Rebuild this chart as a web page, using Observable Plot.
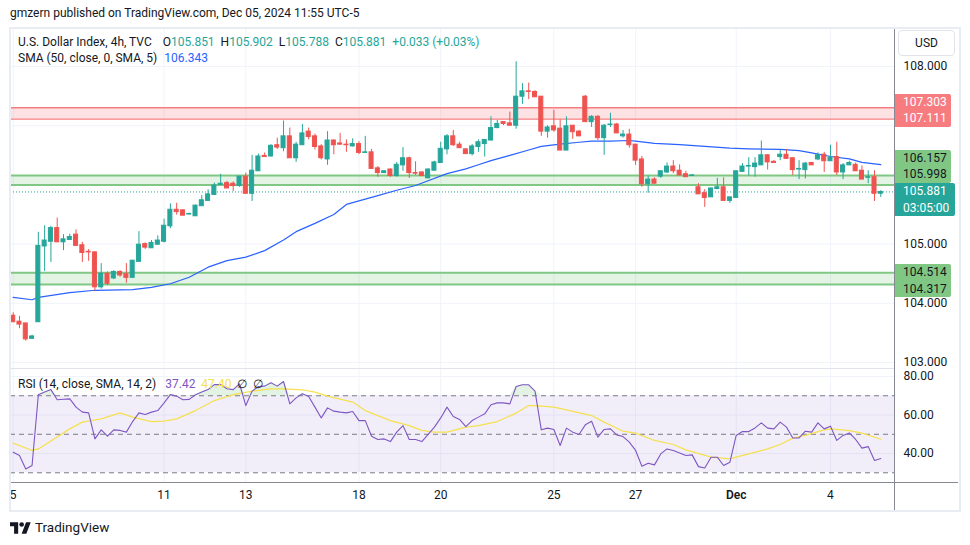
<!DOCTYPE html>
<html><head><meta charset="utf-8">
<script src="https://cdn.jsdelivr.net/npm/d3@7"></script>
<script src="https://cdn.jsdelivr.net/npm/@observablehq/plot@0.6"></script>
<style>
body{margin:0;background:#fff;}
#root{position:relative;width:970px;height:545px;overflow:hidden;font-family:Roboto,"Noto Sans",sans-serif;color:#131722;font-size:12px;}
.abs{position:absolute;white-space:nowrap;}
.lbl{position:absolute;left:895px;border-radius:0 2px 2px 0;font-size:12px;}
.lbl div{height:16.7px;line-height:16.7px;padding-left:8px;}
</style></head><body><div id="root"></div>
<script>
// ---- data ----
const open  = [103.79,103.69,103.66,103.40,103.68,104.96,105.04,105.27,105.03,105.07,105.16,104.98,104.87,104.86,104.27,104.50,104.42,104.53,104.49,104.43,104.70,105.00,104.93,104.99,105.04,105.30,105.58,105.57,105.50,105.47,105.64,105.73,105.83,106.00,106.03,106.02,105.98,106.14,105.85,106.23,106.49,106.48,106.67,106.62,106.82,106.45,106.67,106.90,106.82,106.65,106.43,106.75,106.70,106.68,106.65,106.69,106.54,106.55,106.28,106.20,106.26,106.15,106.33,106.45,106.20,106.21,106.11,106.24,106.37,106.60,106.82,106.68,106.60,106.52,106.64,106.69,106.75,106.96,107.06,107.04,107.00,107.49,107.58,107.57,107.49,106.90,106.99,106.95,106.58,107.00,106.90,107.49,107.06,107.15,106.79,107.01,107.02,106.82,106.85,106.68,106.43,106.01,106.09,106.14,106.21,106.31,106.24,106.18,106.15,105.96,105.86,105.79,105.93,105.96,105.73,105.78,106.22,106.31,106.30,106.33,106.50,106.39,106.47,106.51,106.45,106.26,106.25,106.37,106.43,106.51,106.40,106.47,106.21,106.33,106.34,106.24,106.12,106.13,105.851];
const high  = [103.84,103.78,103.66,103.46,105.20,105.31,105.30,105.44,105.16,105.17,105.24,105.03,104.91,104.87,104.67,104.53,104.55,104.55,104.67,104.72,105.21,105.02,105.06,105.14,105.42,105.68,105.69,105.58,105.52,105.66,105.82,105.92,106.03,106.18,106.06,106.05,106.14,106.20,106.50,106.52,106.54,106.68,106.79,107.08,106.96,106.72,107.02,106.96,106.86,106.68,106.90,106.76,106.87,106.76,106.78,106.73,106.82,106.60,106.31,106.24,106.27,106.38,106.63,106.47,106.39,106.22,106.27,106.40,106.72,106.85,106.92,106.72,106.61,106.68,106.76,106.76,107.15,107.09,107.07,107.23,108.08,107.71,107.72,107.59,107.49,107.00,107.26,107.10,107.15,107.00,106.92,107.51,107.17,107.17,107.02,107.21,107.04,106.92,106.94,106.68,106.48,106.15,106.12,106.24,106.37,106.41,106.34,106.23,106.17,106.02,105.92,105.94,106.11,106.12,105.79,106.23,106.36,106.46,106.46,106.74,106.51,106.41,106.59,106.60,106.45,106.41,106.38,106.38,106.54,106.55,106.67,106.72,106.36,106.40,106.37,106.32,106.24,106.24,105.902];
const low   = [103.68,103.57,103.36,103.40,103.68,104.54,104.69,105.03,104.89,105.06,104.97,104.69,104.71,104.20,104.24,104.30,104.40,104.44,104.34,104.43,104.70,104.91,104.93,104.98,105.02,105.26,105.49,105.48,105.49,105.47,105.64,105.73,105.83,106.00,105.94,105.89,105.96,105.85,105.72,106.23,106.47,106.47,106.60,106.56,106.45,106.38,106.67,106.76,106.59,106.42,106.33,106.51,106.67,106.55,106.64,106.51,106.54,106.27,106.13,106.19,106.13,106.13,106.23,106.11,106.16,106.15,106.11,106.24,106.37,106.51,106.65,106.62,106.52,106.49,106.55,106.47,106.74,106.95,107.00,106.99,106.94,107.36,107.44,107.48,106.82,106.79,106.89,106.58,106.58,106.77,106.82,107.06,106.97,106.75,106.50,106.97,106.87,106.79,106.62,106.33,105.96,105.86,106.02,106.11,106.19,106.19,106.15,106.13,106.15,105.84,105.62,105.79,105.92,105.73,105.69,105.78,106.22,106.15,106.13,106.33,106.25,106.37,106.41,106.44,106.16,106.09,106.10,106.33,106.41,106.21,106.40,106.16,106.09,106.33,106.23,106.09,106.02,105.72,105.788];
const close = [103.68,103.64,103.39,103.44,104.97,105.06,105.27,105.03,105.08,105.12,104.97,104.85,104.86,104.27,104.50,104.33,104.53,104.47,104.43,104.72,104.99,104.94,105.02,105.06,105.31,105.58,105.54,105.48,105.51,105.65,105.74,105.84,105.99,106.02,105.94,105.98,106.14,105.85,106.24,106.48,106.47,106.66,106.63,106.82,106.45,106.68,106.87,106.81,106.64,106.45,106.75,106.67,106.68,106.67,106.69,106.54,106.55,106.27,106.20,106.23,106.15,106.34,106.45,106.20,106.19,106.15,106.26,106.38,106.61,106.82,106.67,106.62,106.52,106.65,106.72,106.76,106.96,107.03,107.03,107.00,107.49,107.58,107.57,107.48,106.90,106.97,106.92,106.58,106.99,106.89,106.82,107.06,107.15,106.79,107.00,107.02,106.87,106.85,106.67,106.41,106.01,106.09,106.02,106.23,106.31,106.23,106.16,106.13,106.16,105.84,105.78,105.94,105.96,105.73,105.79,106.23,106.31,106.32,106.36,106.50,106.38,106.37,106.51,106.44,106.25,106.27,106.36,106.33,106.50,106.40,106.46,106.21,106.33,106.37,106.23,106.09,106.13,105.85,105.881];
// SMA(50) vertices: [candle index, value]
const sma50 = [[1,104.10],[4,104.06],[5,104.10],[10,104.18],[14,104.22],[20,104.23],[23,104.27],[26,104.33],[29,104.44],[32,104.61],[35,104.72],[38,104.78],[41,104.89],[44,105.07],[46,105.21],[49,105.35],[52,105.50],[54,105.67],[57,105.76],[59,105.82],[62,105.91],[65,105.99],[67,106.07],[70,106.19],[73,106.27],[75,106.34],[77,106.41],[80,106.50],[83,106.59],[85,106.65],[88,106.69],[91,106.72],[93,106.74],[96,106.74],[99,106.75],[100,106.74],[103,106.70],[107,106.68],[111,106.65],[115,106.62],[118,106.61],[123,106.60],[126,106.58],[128,106.54],[131,106.48],[134,106.44],[136,106.38],[139,106.343]];
// RSI(14) per candle
const rsi = [40.7,39.0,32.0,33.8,70.5,71.9,73.2,67.9,68.2,68.4,64.1,61.5,61.1,47.6,52.3,49.0,52.3,52.0,51.1,56.6,61.1,60.3,61.5,62.3,66.3,70.6,69.8,67.9,68.1,70.5,71.9,73.2,75.8,75.8,73.6,73.2,76.2,64.9,72.4,74.8,75.0,76.7,75.0,77.4,65.8,68.9,71.0,69.6,64.1,58.5,63.7,62.0,61.5,61.1,61.8,57.1,57.1,49.0,47.3,47.6,46.2,51.1,54.5,47.3,47.3,46.2,49.9,53.7,58.5,64.1,59.2,57.7,54.0,57.1,58.9,60.6,65.3,66.3,66.3,65.8,74.8,75.7,75.7,72.4,52.3,53.2,52.5,44.2,53.2,51.1,49.9,54.9,56.8,48.5,52.5,52.8,49.7,48.8,45.9,41.6,33.4,35.0,34.1,39.8,42.4,41.6,40.3,39.0,39.3,33.2,32.5,38.1,38.1,33.8,35.5,49.4,51.4,51.4,53.3,55.9,53.2,52.8,56.3,53.7,48.1,48.1,51.6,51.1,55.9,52.8,54.2,46.8,49.4,50.7,47.3,42.8,43.6,36.4,37.42];
// RSI-based SMA(14) vertices
const rsiSma = [[1,45.4],[4,41.6],[5,42.4],[10,52.8],[12,56.3],[15,58],[18,61.1],[20,58.9],[23,56.6],[25,56.8],[27,58],[30,62.3],[33,67.5],[36,70.6],[39,72.4],[42,73.6],[44,73.6],[47,73.1],[49,71.9],[51,69.8],[55,66.7],[57,62.3],[61,57.1],[64,54.5],[66,52],[68,51.1],[70,51.1],[73,53.7],[75,54.5],[78,56.6],[81,61],[83,64.9],[84,64.9],[87,64.1],[89,62.7],[93,59.7],[95,56.3],[98,51.6],[100,50.6],[103,46.8],[106,44.7],[108,41.9],[112,38.1],[115,37.2],[116,38.1],[118,39.8],[121,42.4],[123,44.7],[125,48],[127,49.4],[130,52.3],[131,52.8],[134,51.9],[136,50.6],[139,47.4]];
// zones
const bandLow  = [107.111, 105.998, 104.317];
const bandHigh = [107.303, 106.157, 104.514];
const bandKind = ["res", "sup", "sup"];
// axes
const priceGrid = [103, 104, 105, 106, 107, 108];
const priceTickLabels = [103, 104, 105, 108];   // 106 and 107 sit under the level labels
const rsiTicks = [40, 60, 80];
const rsiLevels = [70, 50, 30];
const dayTickIdx = [1, 25, 38, 56, 69, 87, 100, 116, 131];
const dayLabels = ["5", "11", "13", "18", "20", "25", "27", "Dec", "4"];
const lastPrice = 105.881;
const countdown = "03:05:00";

// ---- build ----
const UP = "#26a69a", DN = "#ef5350";
const candles = close.map((c, k) => ({i: k + 1, o: open[k], h: high[k], l: low[k], c, col: c >= open[k] ? UP : DN}));
const smaData = sma50.map(([i, v]) => ({i, v}));
const rsiData = rsi.map((v, k) => ({i: k + 1, v}));
const rsiSmaData = rsiSma.map(([i, v]) => ({i, v}));
const bands = bandLow.map((lo, k) => ({lo, hi: bandHigh[k], col: bandKind[k] === "res" ? "#f77c80" : "#81c784", w: bandKind[k] === "res" ? 1.4 : 2}));
const days = dayTickIdx.map((i, k) => ({i, label: dayLabels[k]}));

const W = 948, MR = 64;
const xDomain = [0.57, 141.18];
const font = "Roboto, 'Noto Sans', sans-serif";
const root = document.getElementById("root");

const pricePlot = Plot.plot({
  width: W, height: 340, marginLeft: 0, marginRight: MR, marginTop: 0, marginBottom: 0,
  style: {fontFamily: font, fontSize: "12px", color: "#131722", background: "transparent", overflow: "visible"},
  color: {type: "identity"},
  x: {domain: xDomain, axis: null},
  y: {domain: [103, 108], range: [334, 38], axis: null},
  marks: [
    Plot.ruleY(priceGrid, {stroke: "#f0f3fa"}),
    Plot.ruleX(dayTickIdx, {stroke: "#f0f3fa"}),
    Plot.rect(bands, {y1: "lo", y2: "hi", fill: "col", fillOpacity: 0.22}),
    Plot.ruleY(bands, {y: "lo", stroke: "col", strokeWidth: "w"}),
    Plot.ruleY(bands, {y: "hi", stroke: "col", strokeWidth: "w"}),
    Plot.ruleY([lastPrice], {stroke: UP, strokeDasharray: "1,2"}),
    Plot.line(smaData, {x: "i", y: "v", stroke: "#2962ff", strokeWidth: 1.2}),
    Plot.ruleX(candles, {x: "i", y1: "l", y2: "h", stroke: "col", strokeWidth: 1}),
    Plot.rect(candles, {x1: d => d.i - 0.32, x2: d => d.i + 0.32, y1: "o", y2: "c", fill: "col", stroke: "col", strokeWidth: 1}),
    Plot.axisY({anchor: "right", ticks: priceTickLabels, tickFormat: d3.format(".3f"), tickSize: 0, tickPadding: 9, label: null, fontSize: 12})
  ]
});
const pWrap = document.createElement("div");
pWrap.className = "abs"; pWrap.style.cssText = "left:10px;top:28px;width:948px;height:340px;";
pWrap.appendChild(pricePlot); root.appendChild(pWrap);

const rsiPlot = Plot.plot({
  width: W, height: 142, marginLeft: 0, marginRight: MR, marginTop: 0, marginBottom: 28,
  style: {fontFamily: font, fontSize: "12px", color: "#131722", background: "transparent", overflow: "visible"},
  x: {domain: xDomain, axis: null},
  y: {domain: [24.96, 84.15], axis: null},
  marks: [
    Plot.ruleY(rsiTicks, {stroke: "#f0f3fa"}),
    Plot.ruleX(dayTickIdx, {stroke: "#f0f3fa"}),
    Plot.rect([{lo: 30, hi: 70}], {y1: "lo", y2: "hi", fill: "#7e57c2", fillOpacity: 0.1}),
    Plot.ruleY(rsiLevels, {stroke: "#787b86", strokeDasharray: "5,4"}),
    Plot.areaY(rsiData, {x: "i", y1: 70, y2: d => Math.max(70, d.v), fill: "#4caf50", fillOpacity: 0.16}),
    Plot.line(rsiSmaData, {x: "i", y: "v", stroke: "#f5e04f", strokeWidth: 1.2}),
    Plot.line(rsiData, {x: "i", y: "v", stroke: "#7e57c2", strokeWidth: 1.1}),
    Plot.axisY({anchor: "right", ticks: rsiTicks, tickFormat: d3.format(".2f"), tickSize: 0, tickPadding: 9, label: null, fontSize: 12}),
    Plot.text(days.filter(d => d.label !== "Dec"), {x: "i", frameAnchor: "bottom", dy: 16, text: "label", fill: "#131722", fontSize: 12}),
    Plot.text(days.filter(d => d.label === "Dec"), {x: "i", frameAnchor: "bottom", dy: 16, text: "label", fill: "#131722", fontSize: 12, fontWeight: 600})
  ]
});
const rWrap = document.createElement("div");
rWrap.className = "abs"; rWrap.style.cssText = "left:10px;top:368px;width:948px;height:142px;";
rWrap.appendChild(rsiPlot); root.appendChild(rWrap);

// chrome lines
function line(css) { const d = document.createElement("div"); d.className = "abs"; d.style.cssText = css; root.appendChild(d); }
line("left:10px;top:368px;width:884px;height:1px;background:#e0e3eb;");
line("left:894px;top:28px;width:1px;height:482px;background:#868993;");
line("left:10px;top:482px;width:948px;height:1px;background:#868993;");
line("left:9px;top:27px;width:948px;height:481px;border:2px solid #e9ecf2;");

// texts
function html(css, inner) { const d = document.createElement("div"); d.className = "abs"; d.style.cssText = css; d.innerHTML = inner; root.appendChild(d); return d; }
html("left:10px;top:6px;font-size:12px;color:#131722;", "gmzern published on TradingView.com, Dec 05, 2024 11:55 UTC-5");
const g = `color:${UP}`;
html("left:18px;top:35px;font-size:12px;color:#131722;",
  `U.S. Dollar Index, 4h, TVC <span style="margin-left:8px">O</span><span style="${g}">105.851</span> <span style="margin-left:3px">H</span><span style="${g}">105.902</span> <span style="margin-left:3px">L</span><span style="${g}">105.788</span> <span style="margin-left:3px">C</span><span style="${g}">105.881</span> <span style="${g};margin-left:3px">+0.033 (+0.03%)</span>`);
html("left:18px;top:51px;font-size:12px;color:#131722;", `SMA (50, close, 0, SMA, 5) <span style="color:#2962ff;margin-left:4px">106.343</span>`);
html("left:18px;top:377px;font-size:12px;color:#131722;", `RSI (14, close, SMA, 14, 2) <span style="color:#7e57c2;margin-left:6px">37.42</span> <span style="color:#f5e04f;margin-left:3px">47.40</span> <span style="margin-left:3px">∅</span> <span style="margin-left:3px">∅</span>`);
html("left:898px;top:30px;width:57px;height:26px;border:1px solid #e0e3eb;border-radius:4px;box-sizing:border-box;text-align:center;line-height:24px;font-size:12px;color:#131722;", "USD");

// price-axis labels positioned through the y scale
const ys = v => pricePlot.scale("y").apply(v) + 28;
function box(top, bg, fg, w, lines) {
  const d = document.createElement("div"); d.className = "lbl";
  d.style.cssText += `top:${top}px;width:${w}px;background:${bg};color:${fg};`;
  d.innerHTML = lines.map(t => `<div>${t}</div>`).join("");
  root.appendChild(d);
}
const fmt = d3.format(".3f");
const yLast = ys(lastPrice);
box(yLast - 8.35, UP, "#fff", 60, [fmt(lastPrice), countdown]);
box(yLast - 8.35 - 33.4, "#81c784", "#131722", 56, [fmt(bandHigh[1]), fmt(bandLow[1])]);
box(ys(bandLow[0]) - 8.35 - 16.7, "#f77c80", "#fff", 56, [fmt(bandHigh[0]), fmt(bandLow[0])]);
box(ys(bandHigh[2]) - 8.35, "#81c784", "#131722", 56, [fmt(bandHigh[2]), fmt(bandLow[2])]);

// footer
html("left:10px;top:522px;width:21px;height:12px;", `<svg width="21" height="12" viewBox="0 0 36 20"><path d="M14 20H7V7H0V0h14v20zM28 20h-8L27.5 0h8L28 20z" fill="#131722"/><circle cx="20" cy="4" r="4" fill="#131722"/></svg>`);
html("left:35px;top:519px;font-size:13.5px;color:#131722;", "TradingView");
</script></body></html>
